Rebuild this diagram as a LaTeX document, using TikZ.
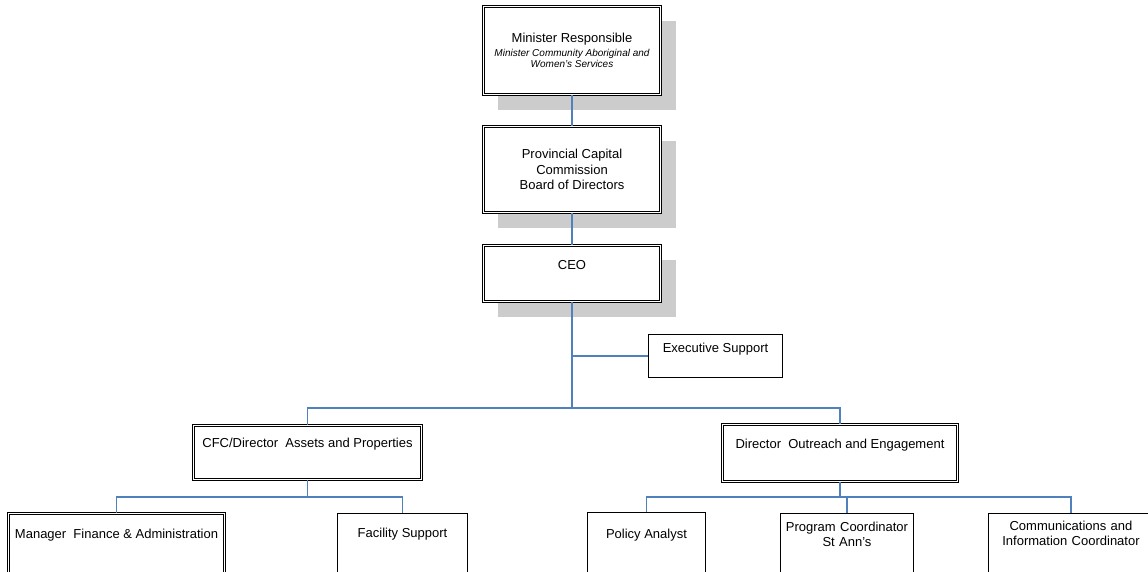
\documentclass[tikz,border=0pt]{standalone}
\usepackage{fontspec}
\setmainfont{Liberation Sans}
\usetikzlibrary{positioning,shadows}
\definecolor{orgblue}{RGB}{79,129,189}
\newcommand{\roletext}{\fontsize{10}{11}\selectfont\itshape}
\tikzset{
  post/.style={draw,double,line width=0.6pt,double distance=1.4pt,fill=white,inner ysep=0pt,outer sep=0pt,font=\fontsize{13}{15.5}\selectfont},
  staff/.style={draw,line width=0.8pt,fill=white,inner ysep=0pt,outer sep=0pt,font=\fontsize{13}{15}\selectfont},
  boxshadow/.style={drop shadow={shadow xshift=15pt,shadow yshift=-15pt,opacity=1,draw=none,fill=black!20}},
  textpos/.style 2 args={text height=#1,text depth=#2},
  orgline/.style={draw=orgblue,line width=1.1pt}
}

\begin{document}
\begin{tikzpicture}[x=1pt,y=-1pt]
  \clip (0,0) rectangle (1148,571);
  % board column
  \node[post, boxshadow, align=center, minimum width=177.4pt, minimum height=88.4pt] (min) at (572,50.5)
      {Minister Responsible\\[-1.5pt] {\roletext Minister Community Aboriginal and}\\[-4.5pt] {\roletext Women’s Services}};
  \node[post, boxshadow, align=center, minimum width=177.4pt, minimum height=86.4pt, below=31.6pt of min] (pcc)
      {Provincial Capital\\ Commission\\ Board of Directors};
  \node[post, boxshadow, textpos={24.35pt}{32.05pt}, minimum width=177.4pt, below=32.6pt of pcc] (ceo) {CEO};
  \node[staff, textpos={18.25pt}{24.95pt}, minimum width=134.2pt, anchor=north] (exec) at (715.5,334.4) {Executive Support};
  % directors
  \node[post, textpos={22.35pt}{32.05pt}, minimum width=228.4pt, anchor=north] (cfc) at (307.5,425.3) {CFC/Director\ \ Assets and Properties};
  \node[post, textpos={24.35pt}{33.05pt}, minimum width=235.4pt, anchor=north] (dir) at (840,424.3) {Director\ \ Outreach and Engagement};
  % staff
  \node[post, textpos={25.35pt}{54.65pt}, minimum width=216.4pt, anchor=north] (mgr) at (116.5,513.3) {Manager\ \ Finance \& Administration};
  \node[staff, textpos={24.25pt}{55.75pt}, minimum width=130.2pt, anchor=north] (fac) at (402.5,513.4) {Facility Support};
  \node[staff, textpos={26.25pt}{53.75pt}, minimum width=118.2pt, anchor=north] (pol) at (646.5,512.4) {Policy Analyst};
  \node[staff, textpos={18.25pt}{61.75pt}, text width=125pt, align=center, minimum width=133.2pt, anchor=north] (prg) at (847,513.4) {Program Coordinator\\ St Ann’s};
  \node[staff, textpos={17.25pt}{62.75pt}, text width=150pt, align=center, minimum width=165.2pt, anchor=north] (com) at (1071,513.4) {Communications and\\ Information Coordinator};
  % reporting lines
  \coordinate (topbus) at (572,408);
  \coordinate (leftbus) at (307.5,497);
  \coordinate (rightbus) at (840,497);
  \draw[orgline] (min) -- (pcc);
  \draw[orgline] (pcc) -- (ceo);
  \draw[orgline] (ceo) -- (topbus);
  \draw[orgline] (exec) -- (exec -| topbus);
  \draw[orgline] (cfc) |- (topbus) -| (dir);
  \draw[orgline] (cfc) -- (leftbus);
  \draw[orgline] (mgr) |- (leftbus) -| (fac);
  \draw[orgline] (dir) -- (rightbus);
  \draw[orgline] (pol) |- (rightbus) -| (com);
  \draw[orgline] (prg) -- (prg |- rightbus);
\end{tikzpicture}
\end{document}
